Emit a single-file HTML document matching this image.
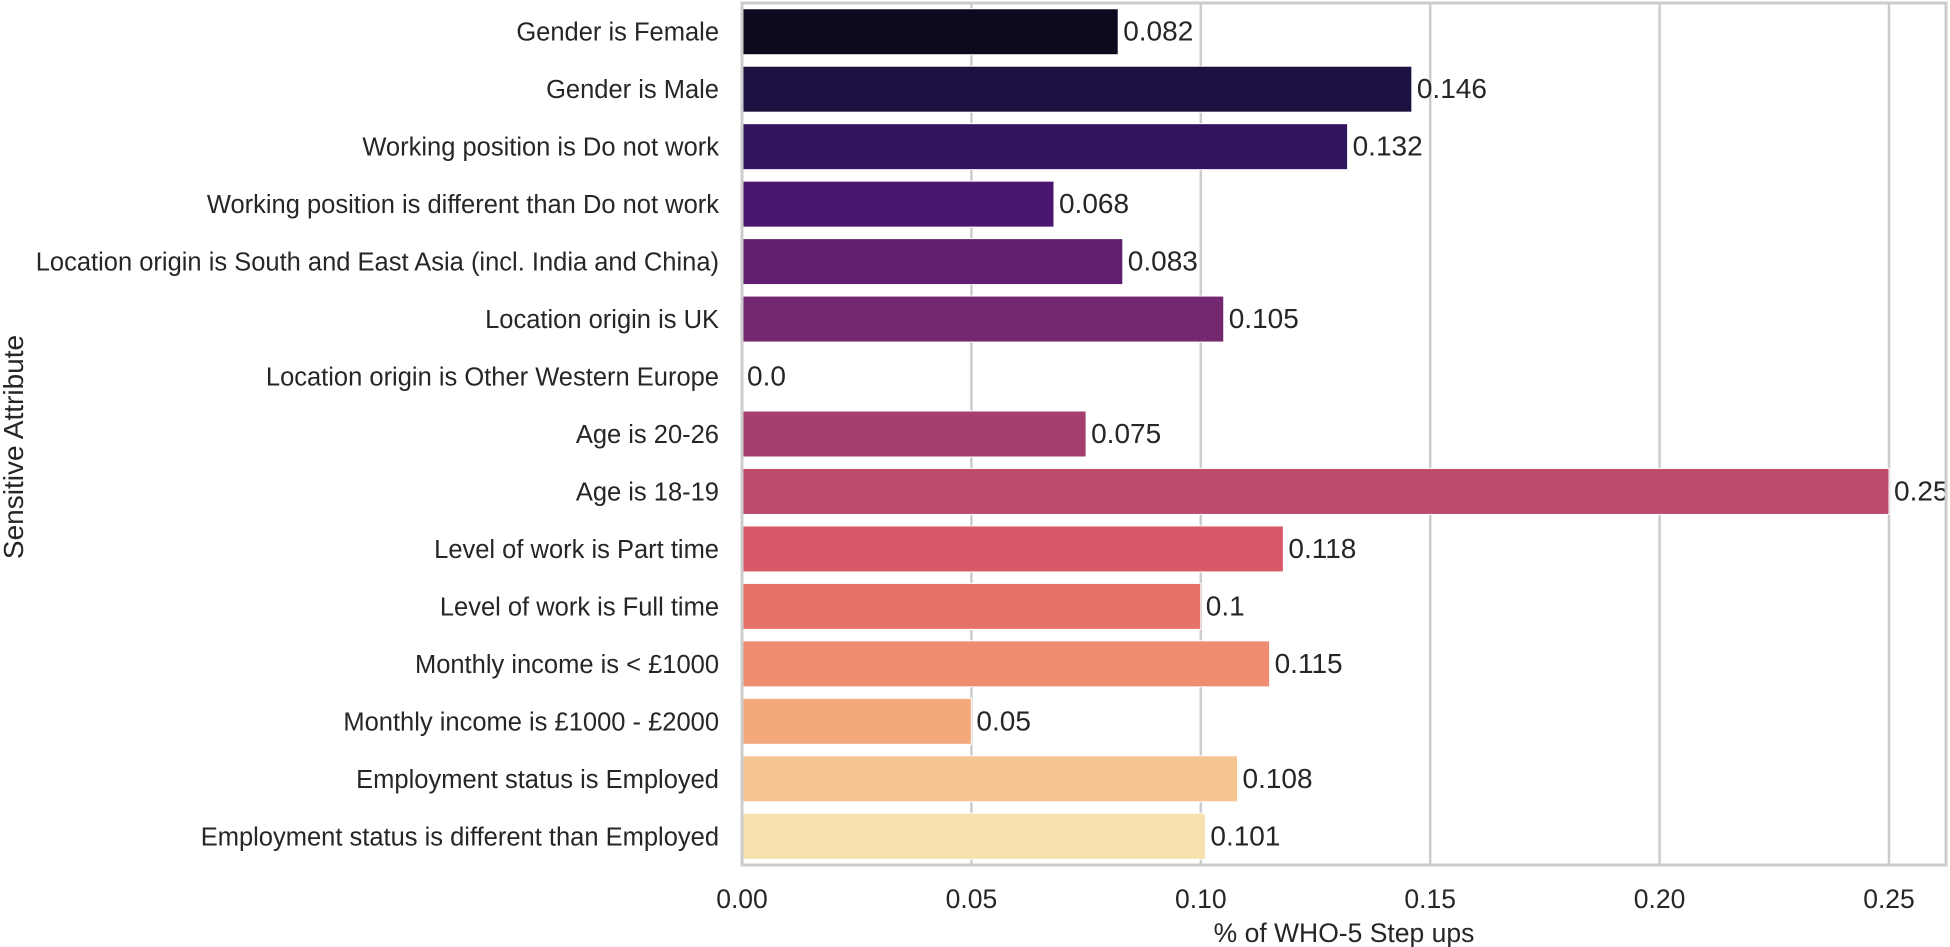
<!DOCTYPE html>
<html><head><meta charset="utf-8"><style>
html,body{margin:0;padding:0;background:#fff;}
svg{display:block;font-family:"Liberation Sans",Arial,sans-serif;}
</style></head><body>
<svg id="chart" width="1950" height="947"></svg>
<script>
const categories=["Gender is Female","Gender is Male","Working position is Do not work","Working position is different than Do not work","Location origin is South and East Asia (incl. India and China)","Location origin is UK","Location origin is Other Western Europe","Age is 20-26","Age is 18-19","Level of work is Part time","Level of work is Full time","Monthly income is < £1000","Monthly income is £1000 - £2000","Employment status is Employed","Employment status is different than Employed"];
const values=[0.082,0.146,0.132,0.068,0.083,0.105,0.0,0.075,0.25,0.118,0.1,0.115,0.05,0.108,0.101];
const valueLabels=["0.082","0.146","0.132","0.068","0.083","0.105","0.0","0.075","0.25","0.118","0.1","0.115","0.05","0.108","0.101"];
const colors=["#0b0a1f","#1c1140","#31155c","#4a1670","#5f1e6f","#732870","#88306f","#a43f6f","#be4a6c","#d85a68","#e6736a","#ee8d6f","#f3a97c","#f5c491","#f6e0ab"];
const ticks=[0,0.05,0.1,0.15,0.2,0.25];
const tickLabels=["0.00","0.05","0.10","0.15","0.20","0.25"];

const NS="http://www.w3.org/2000/svg";
const svg=document.getElementById('chart');
const L=742,R=1946,T=3,B=865,x0=742,xPer=(1889-742)/0.25;
const xs=v=>x0+v*xPer;
const step=(B-T)/categories.length;
const ys=i=>T+step*(i+0.5);
function mk(tag,attrs,parent){const e=document.createElementNS(NS,tag);for(const k in attrs)e.setAttribute(k,attrs[k]);(parent||svg).appendChild(e);return e;}

ticks.forEach((t,i)=>{
  const g=mk('line',{x1:xs(t),x2:xs(t),y1:T,y2:B,stroke:'#cccccc','stroke-width':2.5});
  
  
  const tl=mk('text',{x:xs(t),y:908,'font-size':26.5,'text-anchor':'middle',fill:'#262626'});
  tl.textContent=tickLabels[i];
  
  
});
categories.forEach((c,i)=>{
  const h=step*0.8,y=ys(i);
  const r=mk('rect',{x:xs(0),y:y-h/2,width:Math.max(0,xs(values[i])-xs(0)),height:h,fill:colors[i],stroke:'#fff','stroke-width':1});
  
  
  const vl=mk('text',{x:xs(values[i])+5,y:y+9,'font-size':28,fill:'#262626'});
  vl.textContent=valueLabels[i];
  
  
  const cl=mk('text',{x:719,y:y+9,'font-size':25.5,'text-anchor':'end',fill:'#262626'});
  cl.textContent=c;
  
  
});
const fr=mk('rect',{x:L,y:T,width:R-L,height:B-T,fill:'none',stroke:'#cccccc','stroke-width':3});


const xt=mk('text',{x:1344,y:942,'font-size':26.5,'text-anchor':'middle',fill:'#262626'});
xt.textContent='% of WHO-5 Step ups';


const yt=mk('text',{x:0,y:0,'font-size':28,'text-anchor':'middle',fill:'#262626',transform:'translate(23,447) rotate(-90)'});
yt.textContent='Sensitive Attribute';


</script>
</body></html>
